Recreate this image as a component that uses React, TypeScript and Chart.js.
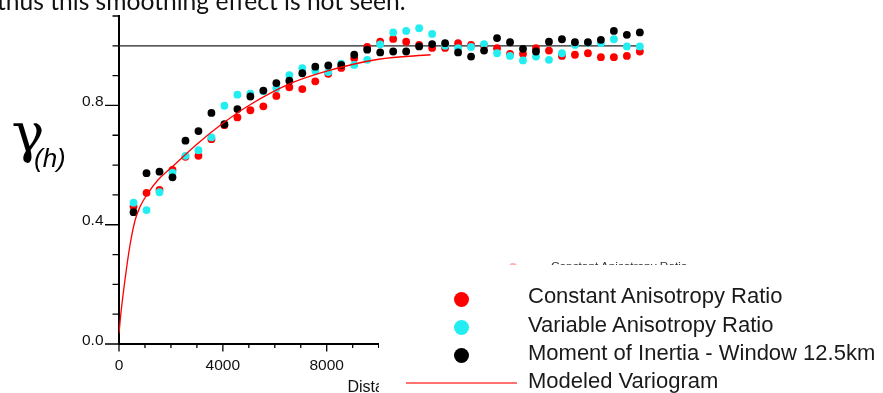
import React, { useEffect, useRef } from "react";
import { Chart, registerables } from "chart.js";

Chart.register(...registerables);

// Lag distances (m) of the experimental variogram points
const lagDistances = [
  560, 1060, 1560, 2060, 2560, 3060, 3560, 4060, 4560, 5060,
  5560, 6060, 6560, 7060, 7560, 8060, 8560, 9060, 9560, 10060,
  10560, 11060, 11560, 12060, 12560, 13060, 13560, 14060, 14560, 15060,
  15560, 16060, 16560, 17060, 17560, 18060, 18560, 19060, 19560, 20060,
];

const constantRatio = [
  0.461, 0.507, 0.517, 0.584, 0.628, 0.631, 0.687, 0.734, 0.760, 0.784,
  0.797, 0.832, 0.861, 0.855, 0.881, 0.906, 0.926, 0.958, 0.996, 1.014,
  1.023, 1.014, 1.003, 0.993, 0.993, 1.009, 1.003, 1.0, 0.992, 0.973,
  0.973, 0.992, 0.984, 0.966, 0.970, 0.975, 0.962, 0.962, 0.966, 0.981,
];

const variableRatio = [
  0.474, 0.449, 0.509, 0.575, 0.631, 0.650, 0.693, 0.799, 0.836, 0.840,
  0.848, 0.858, 0.902, 0.925, 0.916, 0.912, 0.940, 0.936, 0.953, 1.005,
  1.045, 1.050, 1.059, 1.040, 1.000, 0.992, 0.996, 1.006, 0.975, 0.966,
  0.951, 0.964, 0.953, 0.975, 1.003, 1.010, 1.009, 1.022, 0.998, 0.998,
];

const momentInertia = [
  0.442, 0.573, 0.578, 0.559, 0.682, 0.714, 0.775, 0.737, 0.788, 0.830,
  0.850, 0.875, 0.883, 0.908, 0.930, 0.934, 0.936, 0.970, 0.987, 0.978,
  0.981, 0.981, 0.998, 1.006, 1.009, 0.978, 0.964, 0.984, 1.026, 1.012,
  0.990, 0.981, 1.014, 1.022, 1.012, 1.012, 1.020, 1.050, 1.037, 1.045,
];

// Modeled variogram curve
const modelDistances = [0, 70, 230, 420, 620, 810, 1070, 1500, 2000, 3000, 4000, 5000, 6500, 8000, 10000, 12000];
const modelGamma = [0.035, 0.1, 0.215, 0.33, 0.415, 0.46, 0.5, 0.55, 0.59, 0.67, 0.74, 0.8, 0.87, 0.915, 0.955, 0.97];

// Sill line
const sillDistances = [0, 20060];
const sillGamma = [1.0, 1.0];

// Axis ticks
const xMajorTicks = [0, 4000, 8000, 12000, 16000, 20000, 24000];
const xMajorLabels = ["0", "4000", "8000", "12000", "16000", "20000", "24000"];
const xMinorTicks = [1000, 2000, 3000, 5000, 6000, 7000, 9000, 10000, 11000, 13000, 14000, 15000, 17000, 18000, 19000, 21000, 22000, 23000, 25000, 26000, 27000];
const yMajorTicks = [0, 0.4, 0.8];
const yMajorLabels = ["0.0", "0.4", "0.8"];
const yMinorTicks = [0.1, 0.2, 0.3, 0.5, 0.6, 0.7, 0.9, 1.0, 1.1];

const xTitle = "Distance";
const seriesLabels = [
  "Constant Anisotropy Ratio",
  "Variable Anisotropy Ratio",
  "Moment of Inertia - Window 12.5km",
  "Modeled Variogram",
];

const RED = "#ff0000";
const CYAN = "#22eef2";
const BLACK = "#000000";

const pts = (xs: number[], ys: number[]) => xs.map((x, i) => ({ x, y: ys[i] }));

const axesPlugin = {
  id: "customAxes",
  beforeDatasetsDraw(chart: any) {
    const { ctx, chartArea, scales } = chart;
    const x = scales.x;
    const y = scales.y;
    const x0 = x.getPixelForValue(0);
    const y0 = y.getPixelForValue(0);
    ctx.save();
    ctx.strokeStyle = "#000";
    ctx.fillStyle = "#000";
    ctx.lineWidth = 2;
    ctx.beginPath();
    ctx.moveTo(x0, y.getPixelForValue(1.1) - 1);
    ctx.lineTo(x0, y0);
    ctx.lineTo(chartArea.right, y0);
    ctx.stroke();
    ctx.lineWidth = 1.3;
    ctx.beginPath();
    yMajorTicks.forEach((v) => {
      const py = y.getPixelForValue(v);
      ctx.moveTo(x0 - 14, py);
      ctx.lineTo(x0, py);
    });
    yMinorTicks.forEach((v) => {
      const py = y.getPixelForValue(v);
      ctx.moveTo(x0 - 6.5, py);
      ctx.lineTo(x0, py);
    });
    xMajorTicks.forEach((v) => {
      const px = x.getPixelForValue(v);
      ctx.moveTo(px, y0);
      ctx.lineTo(px, y0 + 7.5);
    });
    xMinorTicks.forEach((v) => {
      const px = x.getPixelForValue(v);
      ctx.moveTo(px, y0);
      ctx.lineTo(px, y0 + 4);
    });
    ctx.stroke();
    ctx.font = '15.5px "Liberation Sans", Arial, sans-serif';
    ctx.fillStyle = "#111";
    ctx.textAlign = "right";
    ctx.textBaseline = "alphabetic";
    yMajorTicks.forEach((v, i) => {
      const py = y.getPixelForValue(v);
      ctx.fillText(yMajorLabels[i], x0 - 15.5, py + 0.5);
    });
    ctx.textAlign = "center";
    xMajorTicks.forEach((v, i) => {
      const px = x.getPixelForValue(v);
      ctx.fillText(xMajorLabels[i], px, y0 + 26);
    });
    ctx.textAlign = "left";
    ctx.font = '16px "Liberation Sans", Arial, sans-serif';
    ctx.fillText(xTitle, x.getPixelForValue(8800), y0 + 47.5);
    ctx.restore();
  },
};

function VariogramChart() {
  const canvasRef = useRef<HTMLCanvasElement | null>(null);
  useEffect(() => {
    if (!canvasRef.current) return;
    const chart = new Chart(canvasRef.current, {
      type: "scatter",
      data: {
        datasets: [
          {
            label: "sill",
            data: pts(sillDistances, sillGamma),
            showLine: true,
            borderColor: "#222",
            borderWidth: 1.2,
            pointRadius: 0,
            order: 6,
          },
          {
            label: seriesLabels[0],
            data: pts(lagDistances, constantRatio),
            backgroundColor: RED,
            borderWidth: 0,
            pointRadius: 3.9,
            order: 5,
          },
          {
            label: seriesLabels[1],
            data: pts(lagDistances, variableRatio),
            backgroundColor: CYAN,
            borderWidth: 0,
            pointRadius: 3.9,
            order: 4,
          },
          {
            label: seriesLabels[2],
            data: pts(lagDistances, momentInertia),
            backgroundColor: BLACK,
            borderWidth: 0,
            pointRadius: 3.9,
            order: 3,
          },
          {
            label: seriesLabels[3],
            data: pts(modelDistances, modelGamma),
            showLine: true,
            borderColor: RED,
            borderWidth: 1.3,
            pointRadius: 0,
            cubicInterpolationMode: "monotone",
            order: 1,
          } as any,
        ],
      },
      options: {
        animation: false,
        responsive: false,
        devicePixelRatio: 1,
        events: [],
        layout: { padding: { left: 119, right: 37, top: 16, bottom: 49 } },
        plugins: { legend: { display: false }, tooltip: { enabled: false }, title: { display: false } },
        scales: {
          x: { type: "linear", min: 0, max: 28000, display: false },
          y: { type: "linear", min: 0, max: 1.1, display: false },
        },
      },
      plugins: [axesPlugin],
    });
    return () => chart.destroy();
  }, []);
  return <canvas ref={canvasRef} width={883} height={393} style={{ display: "block", width: 883, height: 393 }} />;
}

const legendFont = '"Liberation Sans", Arial, Helvetica, sans-serif';

export default function App() {
  const dotColors = [RED, CYAN, BLACK];
  const rowBaselines = [304, 332.5, 360.5, 388.5];
  return (
    <div style={{ position: "fixed", left: 0, top: 0, width: 883, height: 393, background: "#fff", overflow: "hidden" }}>
      <VariogramChart />
      {/* cut-off slide text at the top */}
      <div
        style={{
          position: "absolute",
          left: -3,
          top: -11,
          fontFamily: "Lato, 'Open Sans', sans-serif",
          fontSize: 24.6,
          lineHeight: "24.6px",
          whiteSpace: "nowrap",
          color: "#111",
        }}
      >
        thus this smoothing effect is not seen.
      </div>
      {/* gamma(h) axis label */}
      <div
        style={{
          position: "absolute",
          left: 11.5,
          top: 106,
          fontFamily: "'DejaVu Serif', serif",
          fontSize: 55,
          lineHeight: "55px",
          color: "#000",
        }}
      >
        γ
      </div>
      <div style={{ position: "absolute", left: 34, top: 145, fontFamily: legendFont, fontStyle: "italic", fontSize: 26, lineHeight: "26px", color: "#000" }}>
        (h)
      </div>
      {/* original small legend, mostly hidden */}
      <div style={{ position: "absolute", left: 509, top: 262.5, width: 8, height: 8, borderRadius: "50%", background: "#ffb0b0" }} />
      <div style={{ position: "absolute", left: 551, top: 261.2, fontFamily: legendFont, fontSize: 11.8, lineHeight: "11.8px", color: "#333", whiteSpace: "nowrap" }}>
        {seriesLabels[0]}
      </div>
      {/* white overlay box */}
      <div style={{ position: "absolute", left: 378.5, top: 264.5, width: 600, height: 200, background: "#fff" }} />
      {/* big legend */}
      {dotColors.map((c, i) => (
        <div
          key={i}
          style={{
            position: "absolute",
            left: 454.2,
            top: rowBaselines[i] - 12.2,
            width: 15,
            height: 15,
            borderRadius: "50%",
            background: c,
          }}
        />
      ))}
      <div style={{ position: "absolute", left: 406, top: 381.7, width: 111, height: 2, background: "#ff7070" }} />
      {seriesLabels.map((s, i) => (
        <div
          key={s}
          style={{
            position: "absolute",
            left: 528,
            top: rowBaselines[i] - 18.6,
            fontFamily: legendFont,
            fontSize: 22,
            lineHeight: "22px",
            color: "#1a1a1a",
            whiteSpace: "nowrap",
          }}
        >
          {s}
        </div>
      ))}
    </div>
  );
}
